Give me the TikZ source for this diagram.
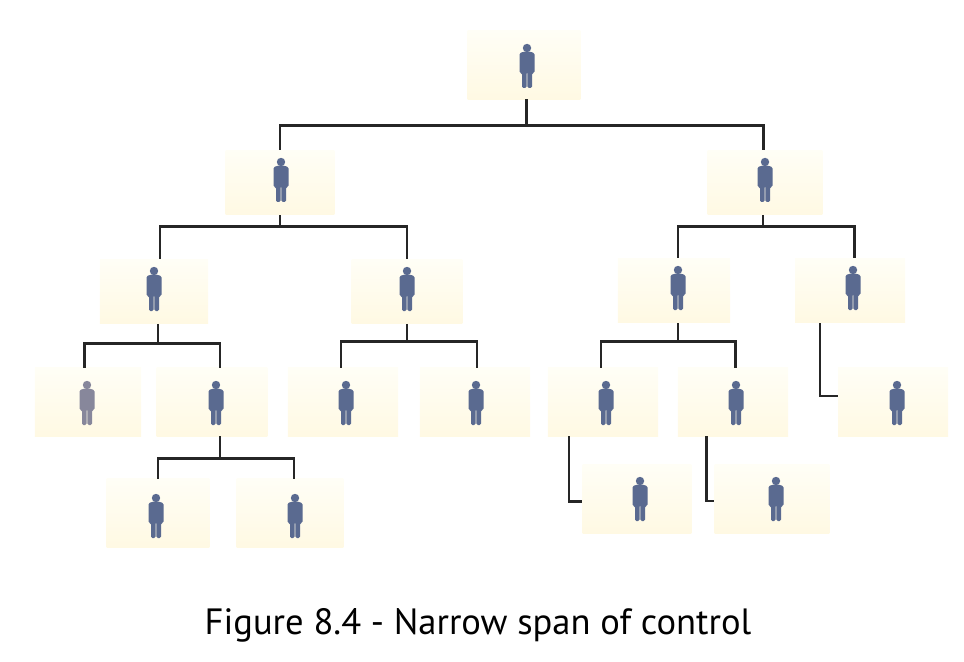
\documentclass[tikz,border=0pt]{standalone}
\usepackage{fontspec}
\setmainfont{PT Sans}
\definecolor{boxtop}{HTML}{FFFEF6}
\definecolor{boxmid}{HTML}{FFFDF0}
\definecolor{boxlow}{HTML}{FFF9E3}
\definecolor{manblue}{HTML}{5A6A90}
\definecolor{mangrey}{HTML}{87879B}
\tikzset{
  box/.style={minimum height=1.7cm,inner sep=0pt,top color=boxtop,middle color=boxmid,bottom color=boxlow},
  conn/.style={line width=2.1pt,draw=black!85},
  manfill/.style={fill=manblue},
  greyman/.style={manfill/.style={fill=mangrey}},
  person/.pic={
    \path[manfill] (0,-18) circle (4.2);
    \path[manfill,rounded corners=1pt] (-2,-14.5) -- (2,-14.5) -- (7.5,-13) -- (7.5,7) -- (5,7) -- (5,22) -- (0.4,22) -- (0.4,6) -- (-0.4,6) -- (-0.4,22) -- (-5,22) -- (-5,7) -- (-7.5,7) -- (-7.5,-13) -- cycle;
  }
}

\begin{document}
\begin{tikzpicture}[x=0.025cm,y=-0.025cm]
\useasboundingbox (0,0) rectangle (964,662);

% level 0
\node[box,minimum width=2.82cm] (root) at (524,65) {};
% level 1
\node[box,minimum width=2.72cm,minimum height=1.62cm] (left) at (280,182.5) {};
\node[box,minimum width=2.87cm,minimum height=1.62cm] (right) at (765,182.5) {};
% level 2
\node[box,minimum width=2.7cm,minimum height=1.6cm] (la) at (154,291.5) {};
\node[box,minimum width=2.77cm,minimum height=1.6cm] (lb) at (407,291.5) {};
\node[box,minimum width=2.8cm,minimum height=1.62cm] (ra) at (674,290.5) {};
\node[box,minimum width=2.75cm,minimum height=1.62cm] (rb) at (850,290.5) {};
% level 3
\node[box,minimum width=2.65cm] (laa) at (88,402) {};
\node[box,minimum width=2.77cm] (lab) at (212,402) {};
\node[box,minimum width=2.75cm] (lba) at (343,402) {};
\node[box,minimum width=2.75cm] (lbb) at (475,402) {};
\node[box,minimum width=2.75cm] (raa) at (603,402) {};
\node[box,minimum width=2.75cm] (rab) at (733,402) {};
\node[box,minimum width=2.75cm] (rba) at (893,402) {};
% level 4
\node[box,minimum width=2.57cm] (laba) at (158,513) {};
\node[box,minimum width=2.67cm] (labb) at (290,513) {};
\node[box,minimum width=2.72cm] (raaa) at (637,499) {};
\node[box,minimum width=2.87cm] (raba) at (772,499) {};

\pic at (527,66) {person};
\pic at (281,180) {person};
\pic at (765,180) {person};
\pic at (154,289) {person};
\pic at (407,289) {person};
\pic at (678,288) {person};
\pic at (853,288) {person};
\pic[greyman] at (87,403) {person};
\pic at (216,403) {person};
\pic at (346,403) {person};
\pic at (476,403) {person};
\pic at (606,403) {person};
\pic at (736,403) {person};
\pic at (897,403) {person};
\pic at (156,516) {person};
\pic at (295,516) {person};
\pic at (640,499) {person};
\pic at (776,499) {person};

\draw[conn] ([xshift=0.07cm]root.south) -- ++(0,26) coordinate (j0) -| (left.north) (j0) -| ([xshift=-0.03cm]right.north);
\draw[conn] (left.south) -- ++(0,11) coordinate (j1) -| ([xshift=0.15cm]la.north) (j1) -| (lb.north);
\draw[conn] ([xshift=-0.05cm]right.south) -- ++(0,11) coordinate (j2) -| ([xshift=0.1cm]ra.north) (j2) -| ([xshift=0.12cm]rb.north);
\draw[conn] ([xshift=0.1cm]la.south) -- ++(0,20) coordinate (j3) -| ([xshift=-0.08cm]laa.north) (j3) -| ([xshift=0.2cm]lab.north);
\draw[conn] (lb.south) -- ++(0,18) coordinate (j4) -| ([xshift=-0.05cm]lba.north) (j4) -| ([xshift=0.05cm]lbb.north);
\draw[conn] ([xshift=0.1cm]ra.south) -- ++(0,18) coordinate (j5) -| ([xshift=-0.05cm]raa.north) (j5) -| ([xshift=0.07cm]rab.north);
\draw[conn] ([xshift=0.2cm]lab.south) -- ++(0,22) coordinate (j6) -| ([xshift=0cm]laba.north) (j6) -| ([xshift=0.1cm]labb.north);
\draw[conn] ([xshift=-0.75cm]rb.south) |- ([yshift=0.15cm]rba.west);
\draw[conn] ([xshift=-0.85cm]raa.south) |- ([yshift=-0.07cm]raaa.west);
\draw[conn] ([xshift=-0.67cm]rab.south) |- ([yshift=-0.05cm]raba.west);

\node (caption) at (478,625) {\fontsize{26}{30}\selectfont Figure 8.4 - Narrow span of control};
\end{tikzpicture}
\end{document}
